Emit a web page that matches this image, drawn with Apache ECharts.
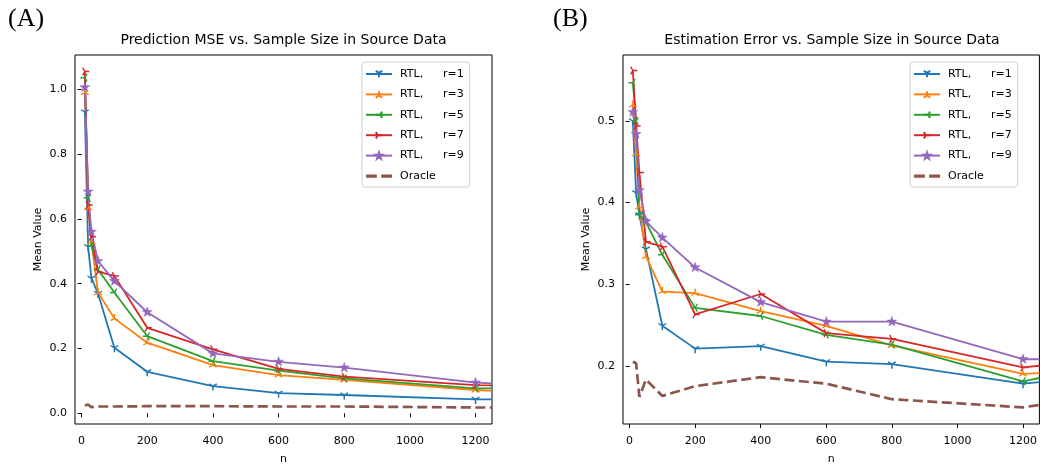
<!DOCTYPE html>
<html>
<head>
<meta charset="utf-8">
<script src="https://cdn.jsdelivr.net/npm/echarts@6/dist/echarts.min.js"></script>
<style>
  html, body { margin: 0; padding: 0; background: #fff; }
  #main { width: 1040px; height: 470px; }
</style>
</head>
<body>
<div id="main"></div>
<script>
// sample sizes (last entry = where the lines leave the plot)
var nVals = [10, 20, 30, 50, 100, 200, 400, 600, 800, 1200, 1250];
var xTicks = [0, 200, 400, 600, 800, 1000, 1200];

// (A) Prediction MSE
var mseR1 = [0.93, 0.514, 0.417, 0.370, 0.2025, 0.128, 0.084, 0.062, 0.0565, 0.043, 0.043];
var mseR3 = [0.99, 0.635, 0.530, 0.372, 0.293, 0.218, 0.149, 0.118, 0.103, 0.072, 0.069];
var mseR5 = [1.036, 0.665, 0.517, 0.444, 0.373, 0.238, 0.161, 0.1315, 0.108, 0.077, 0.077];
var mseR7 = [1.055, 0.643, 0.545, 0.437, 0.424, 0.264, 0.1975, 0.137, 0.113, 0.087, 0.086];
var mseR9 = [1.006, 0.684, 0.560, 0.470, 0.408, 0.312, 0.185, 0.159, 0.141, 0.0945, 0.0926];
var mseOracle = [0.024, 0.027, 0.019, 0.021, 0.021, 0.022, 0.022, 0.021, 0.021, 0.018, 0.018];
var mseTicks = [0, 0.2, 0.4, 0.6, 0.8, 1.0];

// (B) Estimation error
var errR1 = [0.500, 0.412, 0.385, 0.343, 0.249, 0.221, 0.224, 0.205, 0.202, 0.178, 0.180];
var errR3 = [0.520, 0.460, 0.395, 0.334, 0.291, 0.289, 0.267, 0.249, 0.225, 0.190, 0.191];
var errR5 = [0.547, 0.500, 0.385, 0.376, 0.336, 0.271, 0.261, 0.238, 0.226, 0.181, 0.185];
var errR7 = [0.562, 0.494, 0.437, 0.352, 0.346, 0.263, 0.288, 0.240, 0.233, 0.198, 0.200];
var errR9 = [0.511, 0.484, 0.415, 0.377, 0.357, 0.3205, 0.278, 0.254, 0.254, 0.208, 0.208];
var errOracle = [0.205, 0.203, 0.162, 0.183, 0.163, 0.175, 0.186, 0.178, 0.159, 0.149, 0.152];
var errTicks = [0.2, 0.3, 0.4, 0.5];

var names = ['RTL, r=1', 'RTL, r=3', 'RTL, r=5', 'RTL, r=7', 'RTL, r=9', 'Oracle'];
var colors = ['#1f77b4', '#ff7f0e', '#2ca02c', '#d62728', '#9467bd', '#8c564b'];

// matplotlib-like markers: tri_down, tri_up, tri_left, tri_right, star
var R = 4.5;
var markers = [
  { symbol: 'path://M0,0L0,10M0,0L-8.66,-5M0,0L8.66,-5', size: [1.732 * R, 1.5 * R], offset: [0, 0.25 * R], stroke: true },
  { symbol: 'path://M0,0L0,-10M0,0L-8.66,5M0,0L8.66,5', size: [1.732 * R, 1.5 * R], offset: [0, -0.25 * R], stroke: true },
  { symbol: 'path://M0,0L-10,0M0,0L5,-8.66M0,0L5,8.66', size: [1.5 * R, 1.732 * R], offset: [-0.25 * R, 0], stroke: true },
  { symbol: 'path://M0,0L10,0M0,0L-5,-8.66M0,0L-5,8.66', size: [1.5 * R, 1.732 * R], offset: [0.25 * R, 0], stroke: true },
  { symbol: 'path://M0,-10L2.245,-3.09L9.511,-3.09L3.633,1.18L5.878,8.09L0,3.82L-5.878,8.09L-3.633,1.18L-9.511,-3.09L-2.245,-3.09Z', size: [10, 9.5], offset: [0, -0.5], stroke: false }
];

function toData(ys) {
  return ys.map(function (y, i) {
    if (i === ys.length - 1) return { value: [nVals[i], y], symbol: 'none' };
    return [nVals[i], y];
  });
}

function makeSeries(arrs, idx) {
  return arrs.map(function (ys, k) {
    if (k === 5) {
      return {
        name: names[k], type: 'line', xAxisIndex: idx, yAxisIndex: idx,
        data: toData(ys), symbol: 'none',
        lineStyle: { color: colors[k], width: 2.7, type: [10, 4.5] },
        itemStyle: { color: colors[k] }
      };
    }
    var m = markers[k];
    return {
      name: names[k], type: 'line', xAxisIndex: idx, yAxisIndex: idx,
      data: toData(ys),
      symbol: m.symbol, symbolSize: m.size, symbolOffset: m.offset,
      showAllSymbol: true,
      lineStyle: { color: colors[k], width: 1.8 },
      itemStyle: { color: m.stroke ? 'rgba(0,0,0,0)' : colors[k], borderColor: colors[k], borderWidth: m.stroke ? 1.4 : 0.5 }
    };
  });
}

var font = 'DejaVu Sans';
function xAxisCfg(gi) {
  return {
    type: 'value', gridIndex: gi, min: -20, max: 1250,
    name: 'n', nameLocation: 'middle', nameGap: 30,
    nameTextStyle: { fontSize: 11, color: '#000', fontFamily: font },
    axisLine: { show: false },
    axisTick: { show: true, length: 4, lineStyle: { color: '#000' }, customValues: xTicks },
    axisLabel: { fontSize: 11, color: '#000', fontFamily: font, margin: 12, customValues: xTicks,
      formatter: function (v) { return String(v); } },
    splitLine: { show: false }
  };
}
function yAxisCfg(gi, min, max, ticks) {
  return {
    type: 'value', gridIndex: gi, min: min, max: max,
    name: 'Mean Value', nameLocation: 'middle', nameGap: 31, nameRotate: 90,
    nameTextStyle: { fontSize: 11, color: '#000', fontFamily: font },
    axisLine: { show: false },
    axisTick: { show: true, length: 4, lineStyle: { color: '#000' }, customValues: ticks },
    axisLabel: { fontSize: 11, color: '#000', fontFamily: font, margin: 8, customValues: ticks,
      formatter: function (v) { return v.toFixed(1); } },
    splitLine: { show: false }
  };
}
function legendCfg(left) {
  var items = names.map(function (nm, k) {
    // Oracle: two short dashes, like a dashed-line handle
    if (k === 5) return { name: nm, icon: 'path://M0,0h10v3h-10zM14,0h10v3h-10z' };
    return { name: nm };
  });
  return {
    orient: 'vertical', left: left, top: 62, data: items,
    itemWidth: 26, itemHeight: 8, itemGap: 8.4,
    padding: [6, 6, 5, 3],
    borderColor: '#d0d0d0', borderWidth: 1, borderRadius: 3,
    backgroundColor: 'rgba(255,255,255,0.8)',
    selectedMode: false,
    textStyle: { fontSize: 11, lineHeight: 12, color: '#000', fontFamily: font, padding: [0, 0, 0, 3],
      rich: { a: { width: 43, fontSize: 11, lineHeight: 12, fontFamily: font }, b: { fontSize: 11, lineHeight: 12, fontFamily: font } } },
    formatter: function (name) {
      if (name.indexOf('RTL') === 0) {
        var p = name.split(' ');
        return '{a|' + p[0] + '}{b|' + p[1] + '}';
      }
      return name;
    }
  };
}

var chart = echarts.init(document.getElementById('main'));
var option = {
  animation: false,
  backgroundColor: '#fff',
  textStyle: { fontFamily: font },
  graphic: [
    { type: 'text', x: 8, y: 19, style: { text: '(A)', font: '26px "Liberation Serif"', fill: '#000', align: 'left', verticalAlign: 'middle' } },
    { type: 'text', x: 553, y: 19, style: { text: '(B)', font: '26px "Liberation Serif"', fill: '#000', align: 'left', verticalAlign: 'middle' } },
    { type: 'text', x: 283.5, y: 40, style: { text: 'Prediction MSE vs. Sample Size in Source Data', font: '14px "DejaVu Sans"', fill: '#000', align: 'center', verticalAlign: 'middle' } },
    { type: 'text', x: 832, y: 40, style: { text: 'Estimation Error vs. Sample Size in Source Data', font: '14px "DejaVu Sans"', fill: '#000', align: 'center', verticalAlign: 'middle' } }
  ],
  grid: [
    { left: 75, top: 55, width: 417, height: 369, show: true, borderColor: '#000', borderWidth: 1, backgroundColor: 'transparent' },
    { left: 623, top: 55, width: 417, height: 369, show: true, borderColor: '#000', borderWidth: 1, backgroundColor: 'transparent' }
  ],
  legend: [legendCfg(362), legendCfg(910)],
  xAxis: [xAxisCfg(0), xAxisCfg(1)],
  yAxis: [yAxisCfg(0, -0.033, 1.106, mseTicks), yAxisCfg(1, 0.1286, 0.581, errTicks)],
  series: makeSeries([mseR1, mseR3, mseR5, mseR7, mseR9, mseOracle], 0)
    .concat(makeSeries([errR1, errR3, errR5, errR7, errR9, errOracle], 1))
};
chart.setOption(option);
</script>
</body>
</html>
